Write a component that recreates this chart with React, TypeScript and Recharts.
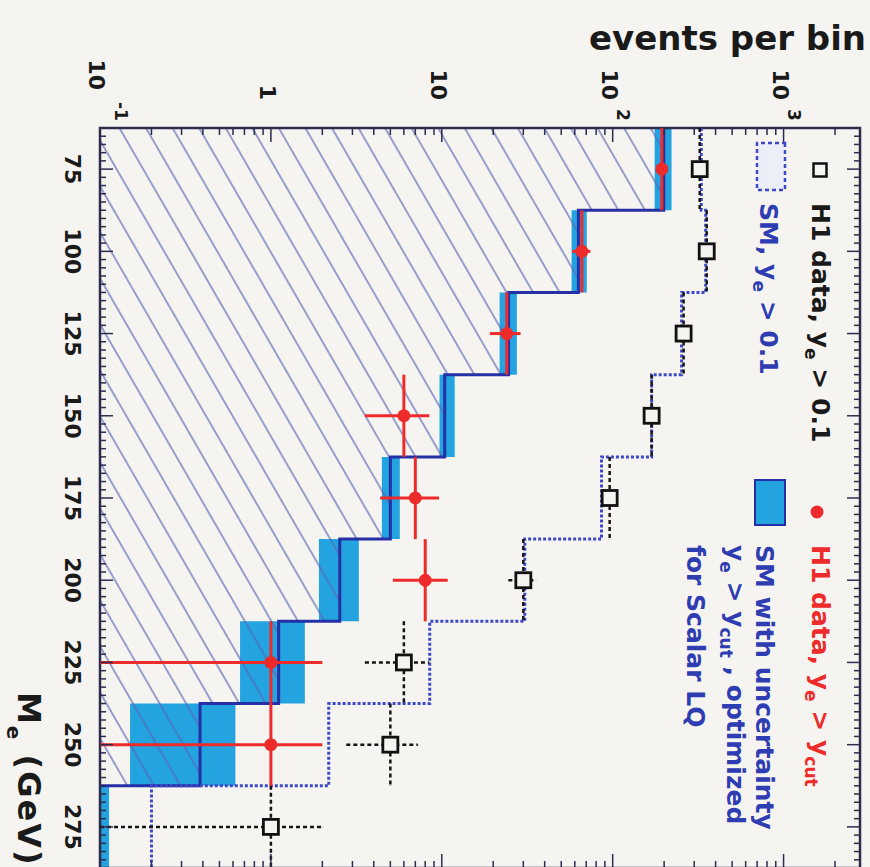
import React from "react";
import {
  ComposedChart,
  Area,
  Line,
  Scatter,
  XAxis,
  YAxis,
  ErrorBar,
  ReferenceArea,
} from "recharts";

// M_e bins (GeV), 25 GeV wide
const binCenters = [75, 100, 125, 150, 175, 200, 225, 250, 275];
const binHalfWidth = 12.5;

// H1 data, y_e > 0.1
const dataAll = [323, 355, 260, 169, 96, 30, 6, 5, 1];
// H1 data, y_e > y_cut (nothing in the last bin)
const dataCut = [194, 66, 24, 6, 7, 8, 1, 1];

// SM expectation, y_e > 0.1
const smAll = [330, 350, 253, 169, 86, 30.6, 8.5, 2.18, 0.2];
// SM expectation with uncertainty, y_e > y_cut
const smCut = [199, 63, 24.6, 10.4, 5.0, 2.53, 1.11, 0.385, 0.08];
const smCutLow = [176, 57.5, 21.8, 9.7, 4.46, 1.91, 0.66, 0.15, 0.03];
const smCutHigh = [221, 70.5, 27.5, 11.9, 5.68, 3.27, 1.58, 0.62, 0.113];

// axes
const massRange = [62.5, 287.5];
const massLabels = [75, 100, 125, 150, 175, 200, 225, 250, 275];
const eventsRange = [0.1, 2800];
const decades = [0.1, 1, 10, 100, 1000];
const decadeBase = ["10", "1", "10", "10", "10"];
const decadeExp = ["-1", "", "", "2", "3"];

const W = 870;
const H = 870;
const MARGIN = { top: 10, right: 2, bottom: 99, left: 127 };
const PLOT_W = W - MARGIN.left - 1 - MARGIN.right;
const PLOT_H = H - MARGIN.top - MARGIN.bottom - 1;

const FONT = "'DejaVu Sans', 'Liberation Sans', sans-serif";
const FRAME = "#2c2c4e";
const INK = "#1a1a1a";
const RED = "#ee2b2b";
const BLUE_TEXT = "#2f3db2";
const BAND = "#23a3df";
const SM_LINE = "#2630a6";
const SM_DOTTED = "#3d49c6";
const PAPER = "#f6f4f0";

const massTicks: number[] = [];
for (let m = massRange[0]; m <= massRange[1] + 1e-6; m += 2.5) massTicks.push(m);

const logTicks: number[] = [];
decades.forEach((d) => {
  for (let k = 1; k <= 9; k++) {
    const v = d * k;
    if (v <= eventsRange[1]) logTicks.push(v);
  }
});

// histogram rows sit on the bin low edges, closed by a row at the upper edge
const stepRows = binCenters.map((c, i) => ({
  m: c - binHalfWidth,
  smAll: smAll[i],
  smCut: smCut[i],
  band: [smCutLow[i], smCutHigh[i]],
}));
stepRows.push({ ...stepRows[stepRows.length - 1], m: massRange[1] });

const poisson = (n: number) => {
  const s = Math.sqrt(n);
  return [Math.min(s, n - eventsRange[0]), s];
};

const allRows = binCenters.map((c, i) => ({
  m: c,
  n: dataAll[i],
  dx: binHalfWidth,
  dy: poisson(dataAll[i]),
}));

const cutRows = dataCut.map((n, i) => ({
  m: binCenters[i],
  n,
  dx: binHalfWidth,
  dy: poisson(n),
}));

function MassTick(props: any) {
  const { x, y, payload } = props;
  const v = payload.value;
  const major = massLabels.includes(v);
  const len = major ? 13 : 6;
  return (
    <g>
      <line x1={x} x2={x} y1={y} y2={y - len} stroke={FRAME} strokeWidth={1.5} />
      <line x1={x} x2={x} y1={y - PLOT_H} y2={y - PLOT_H + len} stroke={FRAME} strokeWidth={1.5} />
      {major && (
        <text x={x} y={y + 35} textAnchor="middle" fontFamily={FONT} fontWeight="bold" fontSize={22} fill={INK}>
          {v}
        </text>
      )}
    </g>
  );
}

function LogTick(props: any) {
  const { x, y, payload } = props;
  const v = payload.value;
  const lg = Math.log10(v);
  const major = Math.abs(lg - Math.round(lg)) < 1e-6;
  const len = major ? 14 : 7;
  const idx = major ? decades.findIndex((d) => Math.abs(Math.log10(d) - lg) < 1e-6) : -1;
  const exp = idx >= 0 ? decadeExp[idx] : "";
  const neg = exp.startsWith("-");
  return (
    <g>
      <line x1={x} x2={x + len} y1={y} y2={y} stroke={FRAME} strokeWidth={1.5} />
      <line x1={x + PLOT_W} x2={x + PLOT_W - len} y1={y} y2={y} stroke={FRAME} strokeWidth={1.5} />
      {idx >= 0 && (
        <text x={x - (neg ? 38 : 28)} y={y + 11} textAnchor="end" fontFamily={FONT} fontWeight="bold" fontSize={22} fill={INK}>
          {decadeBase[idx]}
        </text>
      )}
      {idx >= 0 && exp && (
        <text x={x - (neg ? 26 : 19)} y={y - (neg ? 15 : 4)} textAnchor="start" fontFamily={FONT} fontWeight="bold" fontSize={17} fill={INK}>
          {exp}
        </text>
      )}
    </g>
  );
}

const OpenSquare = (p: any) => (
  <rect x={p.cx - 7.5} y={p.cy - 7.5} width={15} height={15} fill={PAPER} stroke="#111" strokeWidth={2.8} />
);

const RedDot = (p: any) => <circle cx={p.cx} cy={p.cy} r={6.5} fill={RED} />;

const SUB = { fontSize: 17 };

function Overlay() {
  const text = { fontFamily: FONT, fontWeight: "bold" as const };
  return (
    <svg width={W} height={H} style={{ position: "absolute", left: 0, top: 0, pointerEvents: "none" }}>
      <text x={50} y={4} transform="rotate(-90 50 4)" textAnchor="end" fontSize={34} fill={INK} {...text}>
        events per bin
      </text>
      <text x={692} y={852} fontSize={32} letterSpacing={2} fill={INK} {...text}>
        M
        <tspan fontSize={20} dy={11}>e</tspan>
        <tspan dy={-11}> (GeV)</tspan>
      </text>

      {/* legend */}
      <rect x={163.5} y={43.5} width={13} height={13} fill={PAPER} stroke="#111" strokeWidth={2.5} />
      <text x={203} y={58} fontSize={25} fill={INK} {...text}>
        H1 data, y<tspan {...SUB} dy={7}>e</tspan>
        <tspan dy={-7}> {"> 0.1"}</tspan>
      </text>

      <rect x={143} y={85} width={47} height={28} fill="#eceef8" stroke={SM_DOTTED} strokeWidth={2.5} strokeDasharray="4 3" />
      <text x={203} y={110} fontSize={25} fill={BLUE_TEXT} {...text}>
        SM, y<tspan {...SUB} dy={7}>e</tspan>
        <tspan dy={-7}> {"> 0.1"}</tspan>
      </text>

      <circle cx={512} cy={53} r={6.5} fill={RED} />
      <text x={545} y={58} fontSize={25} fill={RED} {...text}>
        H1 data, y<tspan {...SUB} dy={7}>e</tspan>
        <tspan dy={-7}> {"> y"}</tspan>
        <tspan {...SUB} dy={7}>cut</tspan>
      </text>

      <rect x={480} y={85} width={45} height={30} fill={BAND} stroke={SM_LINE} strokeWidth={2} />
      <text x={545} y={114} fontSize={25} fill={BLUE_TEXT} {...text}>
        SM with uncertainty
      </text>
      <text x={545} y={143} fontSize={25} fill={BLUE_TEXT} {...text}>
        y<tspan {...SUB} dy={7}>e</tspan>
        <tspan dy={-7}> {"> y"}</tspan>
        <tspan {...SUB} dy={7}>cut</tspan>
        <tspan dy={-7}> , optimized</tspan>
      </text>
      <text x={545} y={183} fontSize={25} fill={BLUE_TEXT} {...text}>
        for Scalar LQ
      </text>
    </svg>
  );
}

export default function App() {
  return (
    <div style={{ position: "absolute", left: 0, top: 0, width: 870, height: 867, overflow: "hidden", background: PAPER }}>
      <svg width={0} height={0} style={{ position: "absolute" }}>
        <defs>
          <pattern id="lq-hatch" patternUnits="userSpaceOnUse" width={12} height={23} patternTransform="rotate(-30)">
            <line x1={0} y1={1} x2={12} y2={1} stroke="#5a64b4" strokeWidth={1.2} />
          </pattern>
        </defs>
      </svg>
      {/* drawn upright, then turned a quarter clockwise */}
      <div
        style={{
          position: "absolute",
          left: 0,
          top: 0,
          width: W,
          height: H,
          transformOrigin: "0 0",
          transform: `translate(${H}px, 0) rotate(90deg)`,
        }}
      >
        <ComposedChart width={W} height={H} margin={MARGIN}>
          <XAxis
            dataKey="m"
            type="number"
            domain={massRange}
            ticks={massTicks}
            interval={0}
            allowDataOverflow
            height={1}
            axisLine={false}
            tickLine={false}
            tickSize={0}
            tickMargin={0}
            tick={MassTick}
          />
          <YAxis
            type="number"
            scale="log"
            domain={eventsRange}
            ticks={logTicks}
            interval={0}
            allowDataOverflow
            width={1}
            axisLine={false}
            tickLine={false}
            tickSize={0}
            tickMargin={0}
            tick={LogTick}
          />
          <Area
            data={stepRows}
            dataKey="band"
            type="stepAfter"
            stroke="none"
            fill={BAND}
            fillOpacity={1}
            isAnimationActive={false}
          />
          <Area
            data={stepRows}
            dataKey="smCut"
            type="stepAfter"
            baseValue={eventsRange[0]}
            stroke="none"
            fill="url(#lq-hatch)"
            fillOpacity={1}
            isAnimationActive={false}
          />
          <Line
            data={stepRows}
            dataKey="smCut"
            type="stepAfter"
            stroke={SM_LINE}
            strokeWidth={3}
            dot={false}
            isAnimationActive={false}
          />
          <Line
            data={stepRows}
            dataKey="smAll"
            type="stepAfter"
            stroke={SM_DOTTED}
            strokeWidth={3}
            strokeDasharray="3 2"
            dot={false}
            isAnimationActive={false}
          />
          <Scatter data={allRows} dataKey="n" shape={OpenSquare} isAnimationActive={false}>
            <ErrorBar dataKey="dx" direction="x" width={0} stroke="#151515" strokeWidth={2.5} strokeDasharray="4 3" isAnimationActive={false} />
            <ErrorBar dataKey="dy" direction="y" width={0} stroke="#151515" strokeWidth={2.5} strokeDasharray="4 3" isAnimationActive={false} />
          </Scatter>
          <Scatter data={cutRows} dataKey="n" shape={RedDot} isAnimationActive={false}>
            <ErrorBar dataKey="dx" direction="x" width={0} stroke={RED} strokeWidth={3} isAnimationActive={false} />
            <ErrorBar dataKey="dy" direction="y" width={0} stroke={RED} strokeWidth={3} isAnimationActive={false} />
          </Scatter>
          <ReferenceArea
            x1={massRange[0]}
            x2={massRange[1]}
            y1={eventsRange[0]}
            y2={eventsRange[1]}
            fill="none"
            stroke={FRAME}
            strokeWidth={2.5}
            ifOverflow="visible"
          />
        </ComposedChart>
        <Overlay />
      </div>
    </div>
  );
}
